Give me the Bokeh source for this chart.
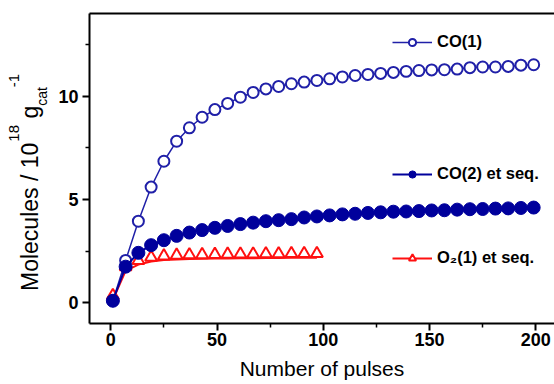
from bokeh.plotting import figure
from bokeh.layouts import row
from bokeh.models import (ColumnDataSource, Range1d, LinearAxis, FixedTicker,
                          Legend, LegendItem, Div)
from bokeh.transform import dodge
from bokeh.embed import file_html
from bokeh.resources import INLINE

# ---- data ----
pulses_co = [1, 7, 13, 19, 25, 31, 37, 43, 49, 55, 61, 67, 73, 79, 85, 91, 97,
             103, 109, 115, 121, 127, 133, 139, 145, 151, 157, 163, 169, 175,
             181, 187, 193, 199]
co1 = [0.1, 2.05, 3.95, 5.6, 6.85, 7.82, 8.47, 8.98, 9.35, 9.65, 9.95, 10.18,
       10.35, 10.47, 10.6, 10.68, 10.76, 10.84, 10.93, 11.0, 11.05, 11.1, 11.15,
       11.2, 11.24, 11.27, 11.28, 11.31, 11.38, 11.41, 11.41, 11.44, 11.5, 11.52]
co2 = [0.1, 1.75, 2.42, 2.79, 3.03, 3.24, 3.4, 3.52, 3.63, 3.72, 3.81, 3.88,
       3.95, 4.0, 4.05, 4.13, 4.18, 4.23, 4.28, 4.31, 4.35, 4.38, 4.41, 4.42,
       4.44, 4.47, 4.48, 4.51, 4.53, 4.54, 4.56, 4.57, 4.59, 4.61]
pulses_o2 = [1, 7, 13, 19, 25, 31, 37, 43, 49, 55, 61, 67, 73, 79, 85, 91, 97]
o2 = [0.15, 1.55, 1.85, 2.0, 2.07, 2.1, 2.12, 2.13, 2.14, 2.15, 2.16, 2.16,
      2.17, 2.17, 2.18, 2.18, 2.18]

x_ticks = [0, 50, 100, 150, 200]
x_minor = [25, 75, 125, 175]
y_ticks = [0, 5, 10]
y_minor = [2.5, 7.5, 12.5]

labels = ["CO(1)", "CO(2) et seq.", "O\u2082(1) et seq."]
x_title = "Number of pulses"

BLUE1 = "#2020A8"
BLUE2 = "#00009C"
RED = "#FF1010"
FONT = "Liberation Sans"

LEFT_W = 52

p = figure(width=554 - LEFT_W, height=384, output_backend="svg",
           toolbar_location=None,
           x_range=Range1d(-10, 208.8), y_range=Range1d(-1, 14),
           x_axis_type=None, y_axis_type=None,
           min_border_left=89 - LEFT_W, min_border_right=0, min_border_top=13,
           min_border_bottom=61)
p.outline_line_color = None
p.background_fill_color = "white"


def style_axis(ax):
    ax.axis_line_width = 2
    ax.axis_line_color = "black"
    ax.major_tick_line_width = 2
    ax.minor_tick_line_width = 1.5
    ax.major_tick_in = 0
    ax.major_tick_out = 7
    ax.minor_tick_in = 0
    ax.minor_tick_out = 4
    ax.major_label_text_font = FONT
    ax.major_label_text_font_style = "bold"
    ax.major_label_text_font_size = "18px"
    ax.major_label_text_color = "black"


xaxis = LinearAxis(ticker=FixedTicker(ticks=x_ticks, minor_ticks=x_minor),
                   axis_label=x_title)
style_axis(xaxis)
xaxis.major_label_standoff = 2
xaxis.axis_label_standoff = 8
xaxis.axis_label_text_font = FONT
xaxis.axis_label_text_font_style = "normal"
xaxis.axis_label_text_font_size = "21px"
xaxis.axis_label_text_color = "black"
p.add_layout(xaxis, "below")

yaxis = LinearAxis(ticker=FixedTicker(ticks=y_ticks, minor_ticks=y_minor))
style_axis(yaxis)
yaxis.major_label_standoff = 4
p.add_layout(yaxis, "left")

topaxis = LinearAxis(ticker=FixedTicker(ticks=[]), major_tick_line_color=None,
                     minor_tick_line_color=None, major_tick_out=0,
                     minor_tick_out=0, major_label_standoff=0,
                     major_label_text_font_size="0px", axis_line_width=2)
p.add_layout(topaxis, "above")

src_co = ColumnDataSource(dict(x=pulses_co, co1=co1, co2=co2))
src_o2 = ColumnDataSource(dict(x=pulses_o2, o2=o2))

r_o2_line = p.line("x", "o2", source=src_o2, line_color=RED, line_width=2)
r_o2_mark = p.scatter(x="x", y=dodge("o2", 0.2, range=p.y_range), source=src_o2,
                      marker="triangle", size=12, fill_color="white",
                      line_color=RED, line_width=2)
r_co1_line = p.line("x", "co1", source=src_co, line_color=BLUE1, line_width=1.5)
r_co1_mark = p.scatter("x", "co1", source=src_co, marker="circle", size=11,
                       fill_color="white", line_color=BLUE1, line_width=2)
r_co2_line = p.line("x", "co2", source=src_co, line_color=BLUE2, line_width=2)
r_co2_mark = p.scatter("x", "co2", source=src_co, marker="circle", size=13,
                       fill_color=BLUE2, line_color=BLUE2, line_width=1)


def add_legend(label, renderers, loc):
    leg = Legend(items=[LegendItem(label=label, renderers=renderers)],
                 location=loc, padding=0, margin=0, spacing=0,
                 border_line_color=None, background_fill_alpha=0,
                 glyph_width=40, glyph_height=18, label_standoff=5,
                 label_text_font=FONT, label_text_font_style="bold",
                 label_text_font_size="16.5px", label_text_color="black")
    p.add_layout(leg)


add_legend(labels[0], [r_co1_line, r_co1_mark], (303, 272))
add_legend(labels[1], [r_co2_line, r_co2_mark], (303, 140))
add_legend(labels[2], [r_o2_line, r_o2_mark], (303, 56))

# rotated y-axis title with super/subscripts
sup = "font-size:15px;position:relative;top:-19px;"
sub = "font-size:14px;position:relative;top:9px;"
ytitle = (
    '<div style="position:relative;width:%dpx;height:384px;overflow:visible;">'
    '<div style="position:absolute;left:18.5px;top:291px;'
    'transform:rotate(-90deg);transform-origin:0 0;white-space:nowrap;'
    "font-family:'Liberation Sans';font-size:23px;line-height:23px;color:#000;\">"
    'Molecules / 10<span style="%smargin-left:1px;">18</span> g'
    '<span style="%s">cat</span><span style="%s">-1</span>'
    '</div></div>' % (LEFT_W, sup, sub, sup)
)
ydiv = Div(text=ytitle, width=LEFT_W, height=384, margin=0)

layout = row(ydiv, p, spacing=0)

open("out.html", "w").write(file_html(layout, INLINE))
